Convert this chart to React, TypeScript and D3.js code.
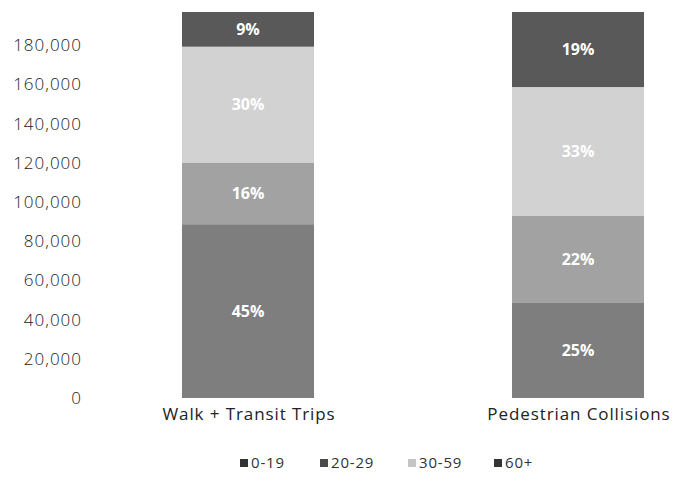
import React, { useMemo } from 'react';
import * as d3 from 'd3';

const WIDTH = 694;
const HEIGHT = 486;

// categories on the x axis
const categories = ['Walk + Transit Trips', 'Pedestrian Collisions'];
// age groups, bottom to top
const ageGroups = ['0-19', '20-29', '30-59', '60+'];
// values (bars are drawn on the same count scale)
const walkTransit = [88700, 31500, 59100, 17700];
const pedCollisions = [48500, 44400, 65800, 38300];
// percent labels printed in the segments
const walkLabels = ['45%', '16%', '30%', '9%'];
const pedLabels = ['25%', '22%', '33%', '19%'];
const yTicks = [0, 20000, 40000, 60000, 80000, 100000, 120000, 140000, 160000, 180000];

const colors = ['#7e7e7e', '#a2a2a2', '#d2d2d2', '#595959'];

const margin = { t: 12, b: 88, l: 83, r: -49 };

const App = () => {
  const innerW = WIDTH - margin.l - margin.r;
  const innerH = HEIGHT - margin.t - margin.b;

  const rows = useMemo(
    () =>
      categories.map((c, i) => {
        const vals = i === 0 ? walkTransit : pedCollisions;
        const row: any = { category: c };
        ageGroups.forEach((g, j) => {
          row[g] = vals[j];
        });
        return row;
      }),
    []
  );

  const stacked = useMemo(() => d3.stack().keys(ageGroups)(rows), [rows]);

  const total = d3.max(rows, (r: any) => d3.sum(ageGroups, (g) => r[g])) as number;

  const xScale = d3
    .scaleBand()
    .domain(categories)
    .range([0, innerW])
    .paddingInner(0.6)
    .paddingOuter(0.3);

  const yScale = d3.scaleLinear().domain([0, total]).range([innerH, 0]);

  const fmt = d3.format(',');
  const labels = [walkLabels, pedLabels];

  const legendX = [240, 320, 408, 494];

  return (
    <svg width={WIDTH} height={HEIGHT} style={{ position: 'absolute', left: 0, top: 0 }}>
      <rect width={WIDTH} height={HEIGHT} fill="#fff" />
      <g transform={`translate(${margin.l}, ${margin.t})`}>
        {yTicks.map((t) => (
          <text
            key={t}
            x={-1}
            y={yScale(t)}
            dy="0.35em"
            textAnchor="end"
            fontFamily="'Open Sans', sans-serif"
            fontWeight={300}
            fontSize={17}
            letterSpacing={1}
            fill="#222"
          >
            {fmt(t)}
          </text>
        ))}
        {stacked.map((layer, i) => (
          <g key={layer.key}>
            {layer.map((d: any, j: number) => (
              <rect
                key={j}
                x={xScale(categories[j])}
                y={yScale(d[1])}
                width={xScale.bandwidth()}
                height={yScale(d[0]) - yScale(d[1])}
                fill={colors[i]}
              />
            ))}
          </g>
        ))}
        {stacked.map((layer, i) => (
          <g key={`l-${layer.key}`}>
            {layer.map((d: any, j: number) => (
              <text
                key={j}
                x={(xScale(categories[j]) as number) + xScale.bandwidth() / 2}
                y={(yScale(d[0]) + yScale(d[1])) / 2}
                dy="0.35em"
                textAnchor="middle"
                fontFamily="'Open Sans', sans-serif"
                fontWeight={700}
                fontSize={16}
                fill="#fff"
              >
                {labels[j][i]}
              </text>
            ))}
          </g>
        ))}
        {categories.map((c) => (
          <text
            key={c}
            x={(xScale(c) as number) + xScale.bandwidth() / 2 + 1}
            y={innerH + 16}
            dy="0.35em"
            textAnchor="middle"
            fontFamily="'Open Sans', sans-serif"
            fontSize={17}
            letterSpacing={0.9}
            fill="#222"
          >
            {c}
          </text>
        ))}
      </g>
      <g transform="translate(0, 463)">
        {ageGroups.map((g, i) => (
          <g key={g} transform={`translate(${legendX[i]}, 0)`}>
            <rect x={0} y={-4} width={8} height={8} fill={i === 2 ? '#c4c4c4' : i === 1 ? '#4a4a4a' : '#333'} />
            <text
              x={11}
              dy="0.35em"
              fontFamily="'Open Sans', sans-serif"
              fontSize={15}
              letterSpacing={0.8}
              fill="#333"
            >
              {g}
            </text>
          </g>
        ))}
      </g>
    </svg>
  );
};

export default App;
